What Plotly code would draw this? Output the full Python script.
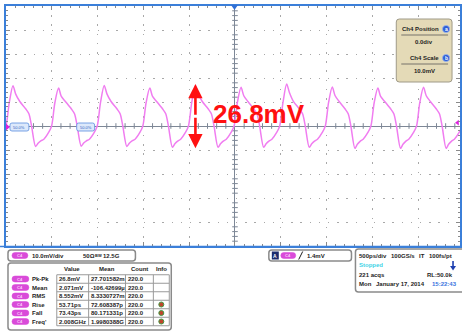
import plotly.graph_objects as go

# ---- Ch4 waveform: time (ps) and voltage (mV) ----
time_ps = [
    -2531, -2500, -2464, -2424, -2394, -2349, -2286, -2250, -2221, -2177, -2150, -2120, -2087, -2033,
    -2002, -1966, -1926, -1896, -1851, -1788, -1752, -1723, -1679, -1652, -1622, -1589, -1535,
    -1504, -1468, -1428, -1398, -1353, -1290, -1254, -1225, -1181, -1154, -1124, -1091, -1037,
    -1006, -970, -930, -900, -855, -792, -756, -727, -683, -656, -626, -593, -539,
    -508, -472, -432, -402, -357, -294, -258, -229, -185, -158, -128, -95, -41,
    -10, 26, 66, 96, 141, 204, 240, 269, 313, 340, 370, 403, 457,
    488, 524, 564, 594, 639, 702, 738, 767, 811, 838, 868, 901, 955,
    986, 1022, 1062, 1092, 1137, 1200, 1236, 1265, 1309, 1336, 1366, 1399, 1453,
    1484, 1520, 1560, 1590, 1635, 1698, 1734, 1763, 1807, 1834, 1864, 1897, 1951,
    1982, 2018, 2058, 2088, 2133, 2196, 2232, 2261, 2305, 2332, 2362, 2395, 2449,
    2480,
]
volt_mv = [
    -2.6, 0, 9.8, 16.8, 13.3, 10.2, 7.2, 5.1, 0, -8.5, -7.2, -6.2, -5.5, -2.6,
    0, 9.8, 15.8, 12.3, 10.2, 7.2, 5.1, 0, -8.4, -7.1, -6.2, -5.5, -2.6,
    0, 9.8, 16.9, 13.4, 10.2, 7.2, 5.1, 0, -8.5, -7.2, -6.2, -5.5, -2.6,
    0, 9.8, 15.8, 12.3, 10.2, 7.2, 5.1, 0, -8.9, -7.4, -6.3, -5.5, -2.6,
    0, 9.8, 16.9, 13.4, 10.2, 7.2, 5.1, 0, -8.9, -7.4, -6.3, -5.5, -2.6,
    0, 9.8, 16.1, 12.6, 10.2, 7.2, 5.1, 0, -8.9, -7.4, -6.3, -5.5, -2.6,
    0, 9.8, 17.5, 14.0, 10.2, 7.2, 5.1, 0, -8.9, -7.4, -6.3, -5.5, -2.6,
    0, 9.8, 16.2, 12.7, 10.2, 7.2, 5.1, 0, -9.3, -7.6, -6.4, -5.5, -2.6,
    0, 9.8, 15.8, 12.3, 10.2, 7.2, 5.1, 0, -9.3, -7.6, -6.4, -5.5, -2.6,
    0, 9.8, 16.1, 12.6, 10.2, 7.2, 5.1, 0, -9.3, -7.6, -6.4, -5.5, -2.6,
    0,
]

# Peak-to-peak callout
pkpk_label = "26.8mV"
pkpk_mv = 26.8
trough_mv = -9.3
arrow_time_ps = -432
trig_level_mv = 1.4

# ---- measurement table ----
meas_names = ["Pk-Pk", "Mean", "RMS", "Rise", "Fall", "Freq'"]
meas_value = ["26.8mV", "2.071mV", "8.552mV", "53.71ps", "73.43ps", "2.008GHz"]
meas_mean = ["27.701582m", "-106.42699µ", "8.3330727m", "72.608387p", "80.171331p", "1.9980388G"]
meas_count = ["220.0", "220.0", "220.0", "220.0", "220.0", "220.0"]
meas_info = [False, False, False, True, True, True]
table_headers = ["Value", "Mean", "Count", "Info"]

# ---- status readouts ----
chan_scale = "10.0mV/div"
chan_term = "50Ω"
chan_bw = "12.5G"
trig_text = "1.4mV"
timebase_row = ["500ps/div", "100GS/s", "IT", "100fs/pt"]
acq_state = "Stopped"
acq_count = "221 acqs"
rec_len = "RL:50.0k"
date_day = "Mon"
date_text = "January 17, 2014"
clock_text = "15:22:43"

W, H = 462, 332
ML, MR, MT, MB = 6, 0, 6, 86
PW, PH = W - ML - MR, H - MT - MB

FONT = "Liberation Sans, Arial, sans-serif"
TRACE = "#f07df0"
PILL = "#d94bd9"
BLUE = "#3b7fd9"
DARK = "#1e1e1e"
CROSS = "#7d8796"

shapes = []
annots = []


def px(x):
    return (x - ML) / PW


def py(y):
    return 1 - (y - MT) / PH


def rrect(x0, y0, x1, y1, r=3, line="#8a8a8a", lw=1.5, fill="white"):
    pts = [
        f"M {px(x0 + r)},{py(y0)}",
        f"L {px(x1 - r)},{py(y0)}",
        f"Q {px(x1)},{py(y0)} {px(x1)},{py(y0 + r)}",
        f"L {px(x1)},{py(y1 - r)}",
        f"Q {px(x1)},{py(y1)} {px(x1 - r)},{py(y1)}",
        f"L {px(x0 + r)},{py(y1)}",
        f"Q {px(x0)},{py(y1)} {px(x0)},{py(y1 - r)}",
        f"L {px(x0)},{py(y0 + r)}",
        f"Q {px(x0)},{py(y0)} {px(x0 + r)},{py(y0)} Z",
    ]
    shapes.append(dict(type="path", xref="paper", yref="paper", path=" ".join(pts),
                       line=dict(color=line, width=lw), fillcolor=fill, layer="above"))


def hline(x0, x1, y, color="#9a9a9a", w=1):
    shapes.append(dict(type="line", xref="paper", yref="paper", x0=px(x0), x1=px(x1),
                       y0=py(y), y1=py(y), line=dict(color=color, width=w), layer="above"))


def vline(x, y0, y1, color="#9a9a9a", w=1):
    shapes.append(dict(type="line", xref="paper", yref="paper", x0=px(x), x1=px(x),
                       y0=py(y0), y1=py(y1), line=dict(color=color, width=w), layer="above"))


def txt(x, y, s, size=6, color=DARK, anchor="left", bold=True):
    annots.append(dict(xref="paper", yref="paper", x=px(x), y=py(y), text=f"<b>{s}</b>" if bold else s,
                       showarrow=False, xanchor=anchor, yanchor="middle", borderpad=0,
                       font=dict(family=FONT, size=size, color=color)))


def pill(x0, yc, x1, label="C4"):
    rrect(x0, yc - 3, x1, yc + 3, r=3, line=PILL, lw=0.5, fill=PILL)
    txt((x0 + x1) / 2, yc, label, size=4, color="#f9d0f9", anchor="center")


def badge(xc, yc, letter):
    shapes.append(dict(type="circle", xref="paper", yref="paper", x0=px(xc - 3.6), x1=px(xc + 3.6),
                       y0=py(yc + 3.6), y1=py(yc - 3.6), fillcolor="#2f5fd6",
                       line=dict(color="#9bb5ee", width=0.8), layer="above"))
    txt(xc, yc, letter, size=5, color="white", anchor="center")


fig = go.Figure()

# Graticule decorations: minor ticks on the centre crosshair
cross_x = [t for t in range(-2500, 2500, 100) if t % 500]
cross_y = [v for v in range(-50, 51, 2) if v % 10]
fig.add_trace(go.Scatter(x=cross_x, y=[0] * len(cross_x), mode="markers", hoverinfo="skip",
                         marker=dict(symbol="line-ns-open", size=4, color=CROSS,
                                     line=dict(color=CROSS, width=1))))
fig.add_trace(go.Scatter(x=[0] * len(cross_y), y=cross_y, mode="markers", hoverinfo="skip",
                         marker=dict(symbol="line-ew-open", size=4, color=CROSS,
                                     line=dict(color=CROSS, width=1))))

# The acquired trace
fig.add_trace(go.Scatter(x=time_ps, y=volt_mv, mode="lines", hoverinfo="skip",
                         line=dict(color=TRACE, width=1.5, shape="spline", smoothing=0.8)))

# Trigger level marker at the right edge
fig.add_trace(go.Scatter(x=[2430], y=[trig_level_mv], mode="markers", cliponaxis=False, hoverinfo="skip",
                         marker=dict(symbol="triangle-left", size=5, color="#e020e0")))

# Peak-to-peak arrow and label
peak_mv = trough_mv + pkpk_mv
mid_mv = (peak_mv + trough_mv) / 2
for tip in (peak_mv, trough_mv):
    annots.append(dict(x=arrow_time_ps, y=tip, ax=arrow_time_ps, ay=mid_mv, xref="x", yref="y",
                       axref="x", ayref="y", text="", showarrow=True, arrowhead=2, arrowsize=1.1,
                       arrowwidth=2.6, arrowcolor="#ff1010", standoff=0))
annots.append(dict(x=261, y=4.8, xref="x", yref="y", text=f"<b>{pkpk_label}</b>", showarrow=False,
                   xanchor="center", yanchor="middle",
                   font=dict(family=FONT, size=26, color="#ff1010")))

# Ground reference marker and level tags on the centre line
shapes.append(dict(type="path", xref="paper", yref="paper",
                   path=f"M {px(6)},{py(123.5)} L {px(10)},{py(127)} L {px(6)},{py(130.5)} Z",
                   fillcolor="#e020e0", line=dict(width=0), layer="above"))
for x0, x1 in ((10, 29), (77, 95)):
    rrect(x0, 123, x1, 131, r=2, line="#5b8ee0", lw=0.8, fill="#dde9fb")
    txt((x0 + x1) / 2, 127, "50.0%", size=4, color="#3060c0", anchor="center", bold=False)

# Trigger position marker on the top border
shapes.append(dict(type="path", xref="paper", yref="paper",
                   path=f"M {px(232)},{py(5)} L {px(239)},{py(5)} L {px(235.5)},{py(10)} Z",
                   fillcolor="#2f6fd6", line=dict(width=0), layer="above"))

# Position / scale readout
rrect(398, 19, 454, 82, r=3, line="#9f9a88", lw=1, fill="#e4dab7")
txt(442, 29, "Ch4 Position", size=6, anchor="right")
badge(448, 29, "a")
hline(403, 450, 35, color="#77736a", w=1)
txt(426, 42, "0.0div", size=6, anchor="center")
txt(442, 58, "Ch4 Scale", size=6, anchor="right")
badge(448, 58, "b")
hline(403, 450, 64, color="#77736a", w=1)
txt(426, 71, "10.0mV", size=6, anchor="center")

# ---- lower status area ----
hline(0, W, 246.5, color=BLUE, w=1.5)

# Channel readout
rrect(8, 250, 136, 261, r=3)
pill(12, 255.5, 28)
txt(31, 255.5, chan_scale)
txt(82, 255.5, chan_term)
txt(94, 255.5, "BW", size=4)
txt(102, 255.5, chan_bw)

# Measurement table
rrect(8, 263, 172, 330, r=3)
head_x = [72, 107, 140, 162]
for hx, h in zip(head_x, table_headers):
    txt(hx, 269, h, anchor="center")
row_h = 8.5
row_y = [279 + i * row_h for i in range(len(meas_names))]
cols = [57, 89, 126, 154, 170]
top, bot = row_y[0] - row_h / 2, row_y[-1] + row_h / 2
for i in range(len(meas_names) + 1):
    hline(cols[0], cols[-1], top + i * row_h)
for c in cols:
    vline(c, top, bot)
for i, yc in enumerate(row_y):
    pill(12, yc, 29)
    txt(31, yc, meas_names[i])
    txt(cols[0] + 1.5, yc, meas_value[i])
    txt(cols[1] + 1.5, yc, meas_mean[i])
    txt(cols[2] + 1.5, yc, meas_count[i])
    if meas_info[i]:
        shapes.append(dict(type="circle", xref="paper", yref="paper", x0=px(159.5), x1=px(164.5),
                           y0=py(yc + 2.5), y1=py(yc - 2.5), fillcolor="#c0462c",
                           line=dict(color="#3f9a45", width=1), layer="above"))

# Trigger readout
rrect(270, 250, 353, 261, r=3)
shapes.append(dict(type="rect", xref="paper", yref="paper", x0=px(273), x1=px(280),
                   y0=py(259.5), y1=py(251.5), fillcolor="#1d2d6e", line=dict(width=0), layer="above"))
txt(276.5, 255.5, "A", size=5, color="white", anchor="center")
pill(282, 255.5, 297)
shapes.append(dict(type="line", xref="paper", yref="paper", x0=px(300), x1=px(304), y0=py(259.5),
                   y1=py(251.5), line=dict(color=DARK, width=1), layer="above"))
txt(307, 255.5, trig_text)

# Timebase / acquisition readout
rrect(357, 249, 472, 292, r=3)
for xx, s in zip([360, 392, 420, 430], timebase_row):
    txt(xx, 255.5, s)
txt(360, 265, acq_state, color="#3fd3e6")
shapes.append(dict(type="line", xref="paper", yref="paper", x0=px(455), x1=px(455), y0=py(261),
                   y1=py(267), line=dict(color="#1d3fb0", width=1.6), layer="above"))
shapes.append(dict(type="path", xref="paper", yref="paper",
                   path=f"M {px(452)},{py(266)} L {px(458)},{py(266)} L {px(455)},{py(270.5)} Z",
                   fillcolor="#1d3fb0", line=dict(width=0), layer="above"))
txt(360, 275, acq_count)
txt(456, 275, rec_len, anchor="right")
txt(360, 284, date_day)
txt(377, 284, date_text)
txt(460, 284, clock_text, color="#3a74e0", anchor="right")

axis_common = dict(showticklabels=False, showline=True, linecolor=BLUE, linewidth=2, mirror="ticks",
                   ticks="inside", ticklen=4, tickcolor="#8a8a8a", tickwidth=1,
                   gridcolor="#a8a8a8", gridwidth=1, zeroline=True, zerolinecolor=CROSS,
                   zerolinewidth=1.2, fixedrange=True)

fig.update_layout(
    width=W, height=H,
    margin=dict(l=ML, r=MR, t=MT, b=MB),
    paper_bgcolor="white", plot_bgcolor="white",
    showlegend=False,
    shapes=shapes, annotations=annots,
    xaxis=dict(range=[-2500, -2500 + PW * 500 / 46], dtick=500, tick0=0, griddash="1.5px,7.7px",
               minor=dict(dtick=100, ticks="inside", ticklen=2, tickcolor="#8a8a8a", showgrid=False),
               **axis_common),
    yaxis=dict(range=[-50, 50], dtick=10, tick0=0, griddash="1.5px,7.7px",
               minor=dict(dtick=2, ticks="inside", ticklen=2, tickcolor="#8a8a8a", showgrid=False),
               **axis_common),
)

fig.write_html("out.html")
